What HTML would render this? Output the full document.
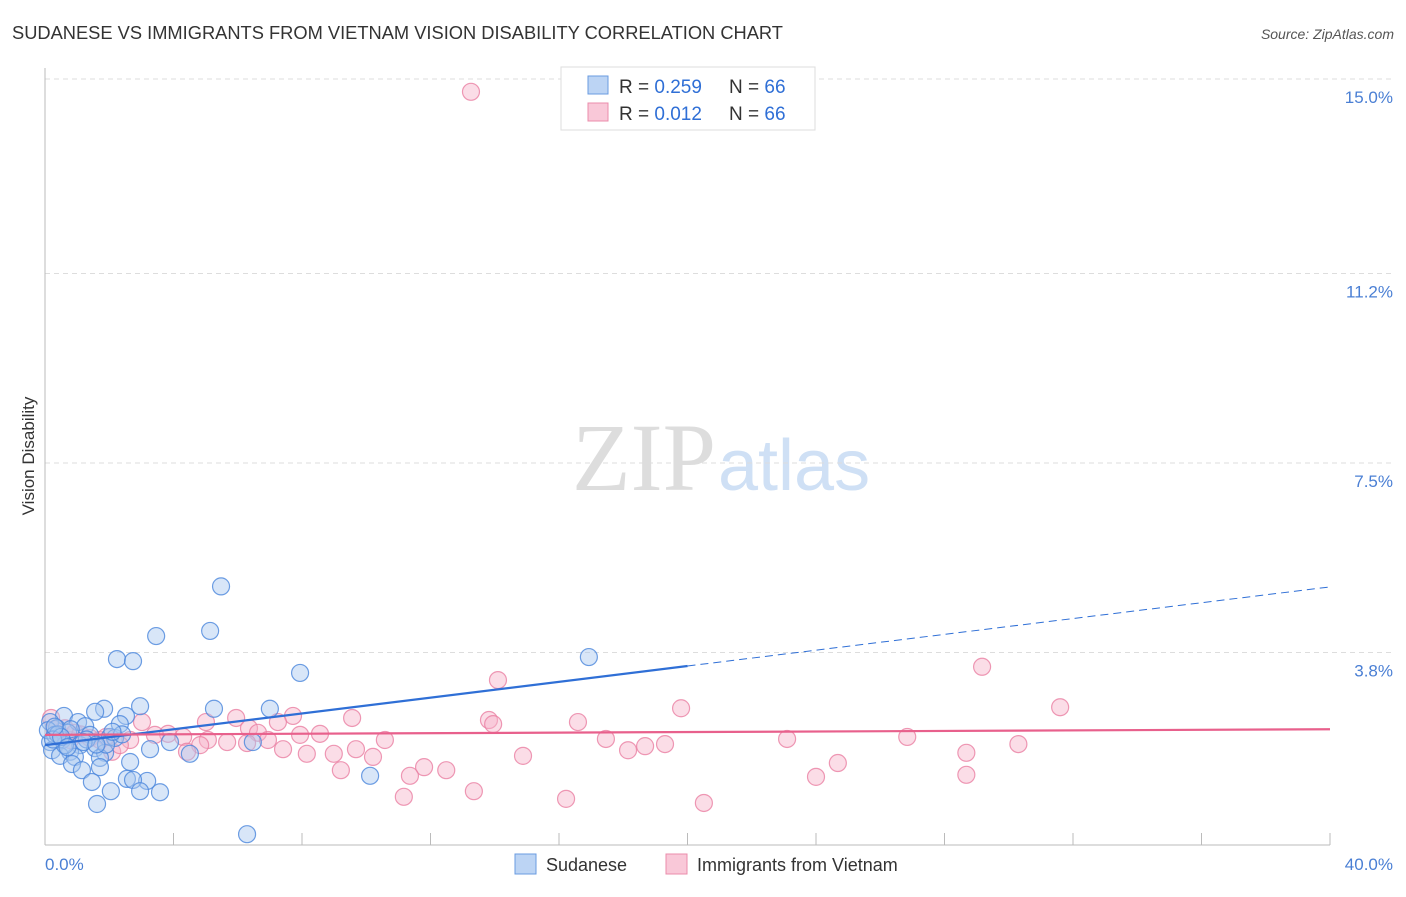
<!DOCTYPE html>
<html><head><meta charset="utf-8"><style>
body{margin:0;background:#fff;font-family:"Liberation Sans",sans-serif}
</style></head><body>
<svg width="1406" height="892" xmlns="http://www.w3.org/2000/svg" font-family="Liberation Sans, sans-serif">
<text x="12" y="39" font-size="18.3" fill="#333">SUDANESE VS IMMIGRANTS FROM VIETNAM VISION DISABILITY CORRELATION CHART</text>
<text x="1394" y="39" font-size="14" fill="#555" font-style="italic" text-anchor="end">Source: ZipAtlas.com</text>
<text x="716" y="490" font-size="96" text-anchor="end" fill="#ddd" font-family="Liberation Serif, serif">ZIP</text>
<text x="718" y="490" font-size="72" fill="#cfe0f5">atlas</text>
<g id="grid"></g>
<line x1="45" y1="68" x2="45" y2="845" stroke="#bbb"/>
<line x1="45" y1="845" x2="1330" y2="845" stroke="#bbb"/>
<g id="xt"></g>
<text transform="translate(34,456) rotate(-90)" font-size="17" fill="#333" text-anchor="middle">Vision Disability</text>
<text x="45" y="870" font-size="17" fill="#4a7fd4">0.0%</text>
<text x="1393" y="870" font-size="17" fill="#4a7fd4" text-anchor="end">40.0%</text>
<g id="pts"></g>
<g id="lines"></g>
<g>
<rect x="561" y="67" width="254" height="63" fill="#fff" stroke="#ddd"/>
<rect x="588" y="76" width="20" height="18" fill="#bcd4f4" stroke="#6a9be0"/>
<rect x="588" y="103" width="20" height="18" fill="#f9c8d8" stroke="#eb8cab"/>
<text x="619" y="93" font-size="19" fill="#333">R = <tspan fill="#2f6fd6">0.259</tspan></text>
<text x="729" y="93" font-size="19" fill="#333">N = <tspan fill="#2f6fd6">66</tspan></text>
<text x="619" y="120" font-size="19" fill="#333">R = <tspan fill="#2f6fd6">0.012</tspan></text>
<text x="729" y="120" font-size="19" fill="#333">N = <tspan fill="#2f6fd6">66</tspan></text>
</g>
<g>
<rect x="515" y="854" width="21" height="20" fill="#bcd4f4" stroke="#6a9be0"/>
<text x="546" y="871" font-size="18" fill="#333">Sudanese</text>
<rect x="666" y="854" width="21" height="20" fill="#f9c8d8" stroke="#eb8cab"/>
<text x="697" y="871" font-size="18" fill="#333">Immigrants from Vietnam</text>
</g>
</svg>
<script>
const yTicks=[15.0,11.2,7.5,3.8];
const yTickLabels=["15.0%","11.2%","7.5%","3.8%"];
const xTicks=[0,4,8,12,16,20,24,28,32,36,40];
const sudX=[5.48,5.14,3.46,2.24,2.74,16.93,7.94,2.96,5.26,7.0,1.84,1.56,2.52,0.59,1.03,2.33,1.25,0.16,0.37,0.72,2.02,1.40,0.53,0.16,2.18,3.89,6.47,1.09,3.27,1.56,0.22,0.78,1.87,4.51,0.47,0.93,1.71,2.65,0.84,1.71,1.15,10.12,2.55,3.18,2.74,1.46,2.05,2.96,3.58,1.62,6.29,0.09,0.31,0.62,0.4,1.3,0.8,1.9,0.25,2.4,1.2,0.5,0.7,1.6,2.1,0.3];
const sudY=[5.09,4.22,4.12,3.67,3.63,3.71,3.40,2.75,2.70,2.70,2.70,2.64,2.56,2.56,2.44,2.40,2.36,2.44,2.32,2.23,2.15,2.19,2.09,2.05,2.13,2.05,2.05,1.99,1.91,1.93,1.89,1.86,1.84,1.82,1.78,1.76,1.74,1.66,1.62,1.56,1.50,1.39,1.33,1.29,1.31,1.27,1.09,1.09,1.07,0.84,0.25,2.28,2.19,1.99,2.2,2.1,2.3,2.0,2.1,2.2,2.05,2.15,1.95,2.0,2.25,2.35];
const vietX=[13.26,29.17,14.10,31.60,19.80,13.82,16.59,13.95,9.56,7.72,5.95,5.01,3.02,0.19,7.25,6.35,6.63,8.56,7.94,3.83,4.30,3.42,5.07,5.67,6.29,6.94,4.83,2.65,10.58,17.46,19.30,18.68,18.15,23.10,26.84,30.30,28.68,9.68,7.41,8.15,8.99,10.21,14.88,4.42,2.09,24.68,11.80,12.49,9.21,11.36,24.0,28.68,13.35,11.17,16.22,20.51,0.47,0.93,1.40,1.71,0.78,2.33,0.62,1.1,1.9,0.3];
const vietY=[14.75,3.52,3.26,2.73,2.71,2.48,2.44,2.40,2.52,2.56,2.52,2.44,2.44,2.52,2.44,2.32,2.23,2.21,2.19,2.21,2.15,2.19,2.09,2.05,2.03,2.09,1.99,2.09,2.09,2.11,2.01,1.97,1.89,2.11,2.15,2.01,1.84,1.91,1.91,1.82,1.82,1.76,1.78,1.86,1.86,1.64,1.56,1.50,1.50,1.39,1.37,1.41,1.09,0.98,0.94,0.86,2.19,2.23,2.13,2.09,2.09,1.99,2.32,2.2,2.15,2.3];
const sudLine=[1.99,5.08], vietLine=[2.19,2.30];
const NS='http://www.w3.org/2000/svg';
const X=v=>45+v/40*1285, Y=v=>79+(15-v)*51.2;
function mk(t,a,p){const e=document.createElementNS(NS,t);for(const k in a)e.setAttribute(k,a[k]);p.appendChild(e);return e;}
const grid=document.getElementById('grid');
yTicks.forEach((t,i)=>{
 const l=mk('line',{x1:45,x2:1392,y1:Y(t),y2:Y(t),stroke:'#ddd','stroke-dasharray':'5,4'},grid);
 
 
 const tx=mk('text',{x:1393,y:Y(t)+24,'font-size':17,fill:'#4a7fd4','text-anchor':'end'},grid);
 tx.textContent=yTickLabels[i];
 
 
});
const xt=document.getElementById('xt');
xTicks.forEach(t=>{const l=mk('line',{x1:X(t),x2:X(t),y1:833,y2:845,stroke:'#bbb'},xt);
 
 });
const pts=document.getElementById('pts');
function draw(xs,ys,fill,stroke,name){xs.forEach((x,i)=>{const c=mk('circle',{cx:X(x),cy:Y(ys[i]),r:8.5,fill:fill,'fill-opacity':0.45,stroke:stroke,'stroke-opacity':0.8,'stroke-width':1.2},pts);
 
 });}
draw(vietX,vietY,'#f6b3c9','#ea7fa3','vietnam-point');
draw(sudX,sudY,'#a9c8f0','#4a86dc','sudanese-point');
const lg=document.getElementById('lines');
const sy=x=>sudLine[0]+(sudLine[1]-sudLine[0])*x/40;
let a=mk('line',{x1:X(0),y1:Y(sy(0)),x2:X(20),y2:Y(sy(20)),stroke:'#2f6fd6','stroke-width':2.2},lg);


a=mk('line',{x1:X(20),y1:Y(sy(20)),x2:X(40),y2:Y(sy(40)),stroke:'#2f6fd6','stroke-width':1,'stroke-dasharray':'8,5'},lg);


a=mk('line',{x1:X(0),y1:Y(vietLine[0]),x2:X(40),y2:Y(vietLine[1]),stroke:'#e8608c','stroke-width':2.2},lg);


</script>
</body></html>
